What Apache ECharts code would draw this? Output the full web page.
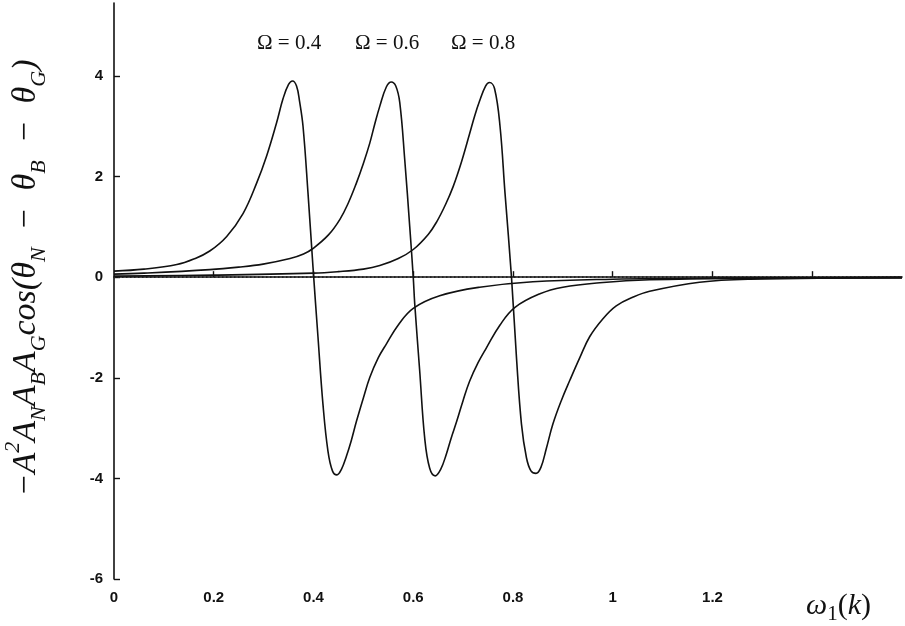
<!DOCTYPE html>
<html>
<head>
<meta charset="utf-8">
<script src="https://cdn.jsdelivr.net/npm/echarts@6/dist/echarts.min.js"></script>
<style>
  html, body { margin: 0; padding: 0; background: #fff; }
  #main { width: 905px; height: 626px; }
</style>
</head>
<body>
<div id="main"></div>
<script>
// 刻度
var xTickValues = [0.2, 0.4, 0.6, 0.8, 1, 1.2, 1.4];
var xLabelValues = [0, 0.2, 0.4, 0.6, 0.8, 1, 1.2];
var yTickValues = [-6, -4, -2, 0, 2, 4];

// 三条曲线 [omega1, value]
var curve04 = [
    [0, 0.12], [0.06, 0.16], [0.126, 0.25], [0.16, 0.36], [0.192, 0.52], [0.226, 0.81],
    [0.259, 1.27], [0.286, 1.87], [0.306, 2.41], [0.326, 3.07], [0.339, 3.55], [0.35, 3.83],
    [0.358, 3.9], [0.366, 3.8], [0.372, 3.5], [0.379, 3.0], [0.389, 1.67], [0.399, 0.2],
    [0.409, -1.19], [0.419, -2.53], [0.429, -3.46], [0.438, -3.85], [0.447, -3.93],
    [0.456, -3.82], [0.466, -3.56], [0.476, -3.24], [0.486, -2.87], [0.5, -2.4], [0.513, -1.99],
    [0.53, -1.6], [0.546, -1.33], [0.57, -0.95], [0.6, -0.62], [0.653, -0.37], [0.733, -0.2],
    [0.84, -0.09], [1.0, -0.04], [1.2, -0.02], [1.58, -0.01]
];
var curve06 = [
    [0, 0.06], [0.06, 0.08], [0.192, 0.15], [0.25, 0.2], [0.299, 0.26], [0.353, 0.37],
    [0.38, 0.46], [0.399, 0.57], [0.43, 0.84], [0.453, 1.15], [0.47, 1.48], [0.486, 1.87],
    [0.5, 2.26], [0.513, 2.67], [0.523, 3.05], [0.533, 3.4], [0.546, 3.78], [0.556, 3.88],
    [0.565, 3.8], [0.573, 3.47], [0.583, 2.33], [0.593, 1.0], [0.6, 0.0], [0.603, -0.53],
    [0.613, -1.87], [0.623, -3.2], [0.633, -3.8], [0.644, -3.95], [0.655, -3.82], [0.666, -3.53],
    [0.676, -3.2], [0.687, -2.87], [0.7, -2.45], [0.713, -2.07], [0.73, -1.7], [0.747, -1.4],
    [0.774, -0.95], [0.804, -0.6], [0.854, -0.33], [0.9, -0.2], [0.974, -0.11], [1.074, -0.05],
    [1.3, -0.02], [1.58, -0.01]
];
var curve08 = [
    [0, 0.02], [0.2, 0.04], [0.4, 0.08], [0.45, 0.11], [0.5, 0.16], [0.533, 0.23], [0.57, 0.37],
    [0.6, 0.55], [0.63, 0.85], [0.647, 1.1], [0.665, 1.45], [0.68, 1.8], [0.697, 2.3],
    [0.713, 2.85], [0.723, 3.2], [0.733, 3.5], [0.745, 3.8], [0.753, 3.87], [0.763, 3.75],
    [0.774, 3.0], [0.784, 1.67], [0.797, 0.0], [0.807, -1.6], [0.817, -2.92], [0.827, -3.59],
    [0.836, -3.85], [0.846, -3.9], [0.856, -3.78], [0.867, -3.4], [0.88, -2.92], [0.897, -2.45],
    [0.914, -2.05], [0.934, -1.6], [0.954, -1.18], [0.98, -0.83], [1.007, -0.57], [1.04, -0.4],
    [1.074, -0.28], [1.174, -0.1], [1.275, -0.04], [1.58, -0.01]
];
var zeroLine = [[0, 0], [1.58, 0]];
var omegaNames = ['Ω = 0.4', 'Ω = 0.6', 'Ω = 0.8'];

(function () {
    var myChart = echarts.init(document.getElementById('main'));
    var ink = '#111';
    var serif = '"Liberation Serif", "DejaVu Serif", serif';
    var lab = { color: ink, fontFamily: 'Liberation Sans, Arial, sans-serif', fontWeight: 'bold', fontSize: 15 };

    function curve(name, data) {
        return {
            name: name,
            type: 'line',
            data: data,
            showSymbol: false,
            smooth: 0.4,
            lineStyle: { color: ink, width: 1.6 },
            silent: true
        };
    }

    var option = {
        backgroundColor: '#fff',
        animation: false,
        grid: { left: 114, right: 3, top: 3, bottom: 47, outerBoundsMode: 'none', containLabel: false },
        xAxis: {
            type: 'value',
            min: 0,
            max: 1.58,
            interval: 0.2,
            axisLine: { lineStyle: { color: ink, width: 1.6 } },
            axisTick: { inside: true, length: 6, customValues: xTickValues, lineStyle: { color: ink, width: 1.4 } },
            axisLabel: Object.assign({ margin: 11, customValues: xLabelValues }, lab),
            splitLine: { show: false }
        },
        yAxis: {
            type: 'value',
            min: -6,
            max: 5.45,
            interval: 2,
            name: '{t|−A}{sup|2}{t|A}{sub|N}{t|A}{sub|B}{t|A}{sub|G}{t|cos(θ}{sub|N}{t|  −  θ}{sub|B}{t|  −  θ}{sub|G}{t|)}',
            nameLocation: 'middle',
            nameRotate: 90,
            nameGap: 64,
            nameTextStyle: {
                padding: [0, 0, 0, 26],
                rich: {
                    t: { fontFamily: serif, fontStyle: 'italic', fontSize: 34, color: ink, lineHeight: 48, verticalAlign: 'middle' },
                    sup: { fontFamily: serif, fontStyle: 'italic', fontSize: 22, color: ink, verticalAlign: 'top' },
                    sub: { fontFamily: serif, fontStyle: 'italic', fontSize: 22, color: ink, verticalAlign: 'bottom' }
                }
            },
            axisLine: { show: true, lineStyle: { color: ink, width: 1.6 } },
            axisTick: { inside: true, length: 6, customValues: yTickValues, lineStyle: { color: ink, width: 1.4 } },
            axisLabel: Object.assign({ margin: 11, customValues: yTickValues }, lab),
            splitLine: { show: false }
        },
        graphic: [
            { type: 'text', left: 257, top: 33, style: { text: omegaNames[0], font: '21px ' + serif, fill: ink } },
            { type: 'text', left: 355, top: 33, style: { text: omegaNames[1], font: '21px ' + serif, fill: ink } },
            { type: 'text', left: 451, top: 33, style: { text: omegaNames[2], font: '21px ' + serif, fill: ink } },
            {
                type: 'text', left: 806, top: 591,
                style: {
                    text: '{w|ω}{s|1}{p|(}{w|k}{p|)}',
                    rich: {
                        w: { fontFamily: serif, fontStyle: 'italic', fontSize: 30, fill: ink, lineHeight: 38, verticalAlign: 'middle' },
                        s: { fontFamily: serif, fontSize: 21, fill: ink, verticalAlign: 'bottom' },
                        p: { fontFamily: serif, fontSize: 30, fill: ink, verticalAlign: 'middle' }
                    }
                }
            }
        ],
        series: [
            {
                name: 'zero',
                type: 'line',
                data: zeroLine,
                showSymbol: false,
                silent: true,
                lineStyle: { color: '#222', width: 1.8, type: [1.5, 2.5] }
            },
            curve(omegaNames[0], curve04),
            curve(omegaNames[1], curve06),
            curve(omegaNames[2], curve08)
        ]
    };
    myChart.setOption(option);
    window.addEventListener('resize', function () {
        myChart.resize();
    });
})();
</script>
</body>
</html>
